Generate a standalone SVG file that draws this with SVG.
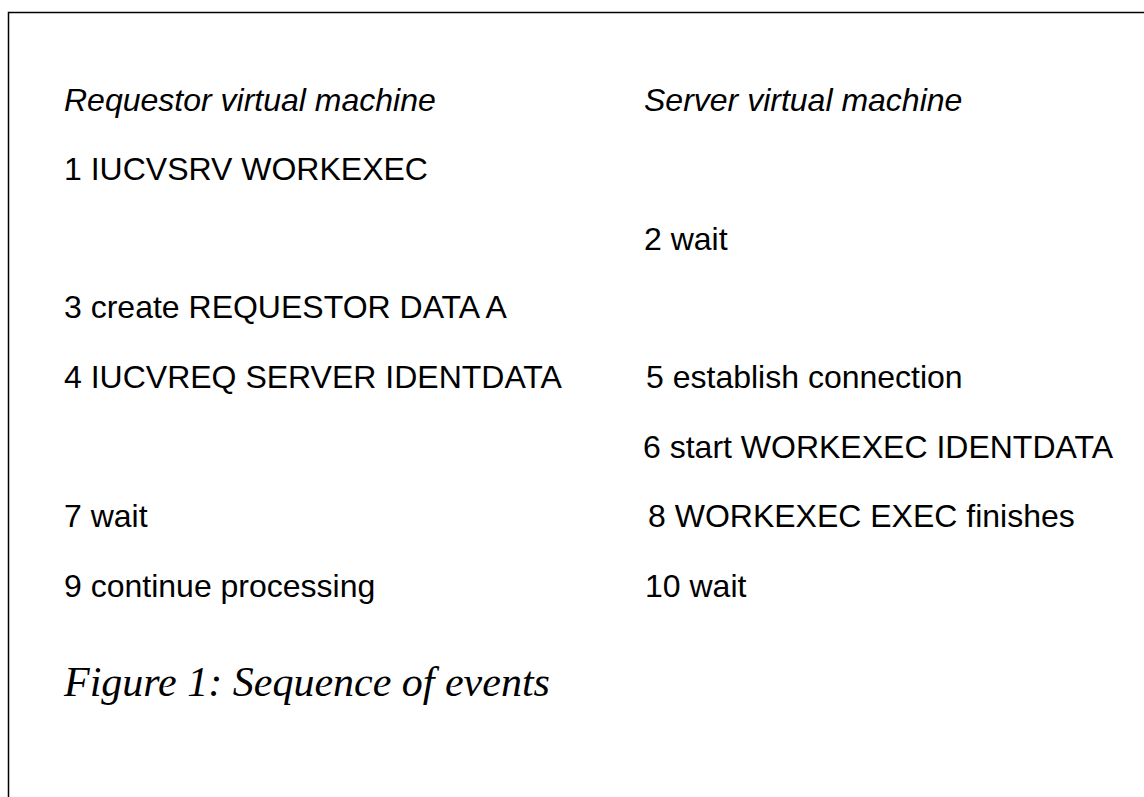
<svg xmlns="http://www.w3.org/2000/svg" width="1144" height="797" viewBox="0 0 1144 797">
<style>
.t{font-family:"Liberation Sans",Arial,sans-serif;font-size:32px;fill:#000}
.h{font-style:italic}
.cap{font-family:"Liberation Serif","Times New Roman",serif;font-style:italic;font-size:42px;fill:#000}
.frame{fill:none;stroke:#000;stroke-width:1.5}
</style>
<rect width="1144" height="797" fill="#fff"/>
<g id="frame"><path class="frame" d="M1144,12.5 H8.5 V797"/></g>
<g id="headers">
<text class="t h" x="64" y="111">Requestor virtual machine</text>
<text class="t h" x="644" y="111">Server virtual machine</text>
</g>
<g id="requestor">
<text class="t" x="64" y="180">1 IUCVSRV WORKEXEC</text>
<text class="t" x="64" y="318">3 create REQUESTOR DATA A</text>
<text class="t" x="64" y="388">4 IUCVREQ SERVER IDENTDATA</text>
<text class="t" x="64" y="527">7 wait</text>
<text class="t" x="64" y="597">9 continue processing</text>
</g>
<g id="server">
<text class="t" x="644" y="250">2 wait</text>
<text class="t" x="646" y="388">5 establish connection</text>
<text class="t" x="643" y="458">6 start WORKEXEC IDENTDATA</text>
<text class="t" x="648" y="527">8 WORKEXEC EXEC finishes</text>
<text class="t" x="645" y="597">10 wait</text>
</g>
<g id="caption"><text class="cap" x="64" y="696">Figure 1: Sequence of events</text></g>
<g id="connectors"/>
</svg>
